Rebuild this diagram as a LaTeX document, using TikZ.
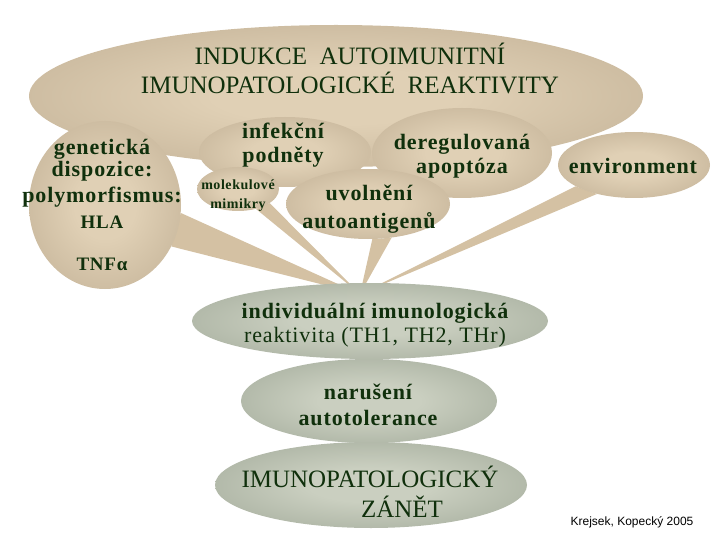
\documentclass[tikz,border=0pt]{standalone}
\usepackage{fontspec}
\setmainfont{Liberation Serif}
\newfontfamily\spaced[LetterSpace=4]{Liberation Serif}
\newfontfamily\creditfont{Liberation Sans}
\usepackage{tikz}
\usetikzlibrary{shapes.geometric}
\definecolor{tanlight}{RGB}{224,208,181}
\definecolor{tandark}{RGB}{176,158,131}
\definecolor{tantail}{RGB}{212,193,163}
\definecolor{greylight}{RGB}{202,207,192}
\definecolor{greydark}{RGB}{140,150,133}
\definecolor{leaf}{RGB}{16,48,12}
\pgfdeclareradialshading{tanball}{\pgfpoint{0bp}{0bp}}{color(0bp)=(tanlight); color(10bp)=(tanlight); color(50bp)=(tandark)}
\pgfdeclareradialshading{greyball}{\pgfpoint{0bp}{0bp}}{color(0bp)=(greylight); color(10bp)=(greylight); color(50bp)=(greydark)}
\pgfdeclarelayer{background}
\pgfsetlayers{background,main}

\begin{document}
\begin{tikzpicture}[x=1pt,y=-1pt,
  balloon/.style={ellipse,inner sep=0pt,shade,shading=tanball},
  greyblob/.style={ellipse,inner sep=0pt,shade,shading=greyball},
  tail/.style={fill=tantail},
  btext/.style={text=leaf,inner sep=0pt,align=center,font=\spaced\bfseries\fontsize{22}{24}\selectfont},
  rtext/.style={text=leaf,inner sep=0pt,align=center,font=\fontsize{25}{29}\selectfont}]
\useasboundingbox (0,0) rectangle (720,540);
\node[balloon,minimum width=614pt,minimum height=142pt] (induction) at (336,96) {};
\node[rtext] (inductiontext) at (350,68) {INDUKCE\ \ AUTOIMUNITNÍ\\IMUNOPATOLOGICKÉ\ \ REAKTIVITY};
\node[balloon,minimum width=152pt,minimum height=168pt] (genetic) at (105,205) {};
\node[btext] (genetictext) at (102,205) {genetická\\[-2pt]dispozice:\\[2pt]polymorfismus:\\[2pt]{\fontsize{19}{20}\selectfont HLA}\\[18pt]{\fontsize{19}{20}\selectfont TNFα}};
\node[balloon,minimum width=172pt,minimum height=70pt] (infect) at (285,152) {};
\node[btext] (infecttext) at (283,145) {infekční\\podněty};
\node[balloon,minimum width=180pt,minimum height=90pt] (dereg) at (462,153) {};
\node[btext] (deregtext) at (462,156) {deregulovaná\\apoptóza};
\node[balloon,minimum width=82pt,minimum height=44pt] (mimic) at (238,189) {};
\node[btext,font=\spaced\bfseries\fontsize{14}{19}\selectfont] (mimictext) at (238,196) {molekulové\\mimikry};
\node[balloon,minimum width=164pt,minimum height=70pt] (release) at (368,204) {};
\node[btext] (releasetext) at (369,209) {uvolnění\\[4pt]autoantigenů};
\node[balloon,minimum width=152pt,minimum height=66pt] (environ) at (634,165) {};
\node[btext] (environtext) at (633,166) {environment};
\coordinate (focus) at (360,294);
\begin{pgfonlayer}{background}
\fill[tail] (genetic.-6) -- (focus) -- (genetic.-32) -- cycle;
\fill[tail] (mimic.-24) -- (focus) -- (mimic.-48) -- cycle;
\fill[tail] (release.-55) -- (focus) -- (release.-83) -- cycle;
\fill[tail] (environ.200) -- (focus) -- (environ.218) -- cycle;
\end{pgfonlayer}
\node[greyblob,minimum width=356pt,minimum height=76pt] (reactivity) at (370,321) {};
\node[btext] (reactivitytext) at (375,325) {individuální imunologická\\{\fontspec[LetterSpace=4]{Liberation Serif}\mdseries\fontsize{22}{26}\selectfont reaktivita (TH1, TH2, THr)}};
\node[greyblob,minimum width=256pt,minimum height=84pt] (tolerance) at (369,401) {};
\node[btext,font=\spaced\bfseries\fontsize{22}{26}\selectfont] (tolerancetext) at (368,405) {narušení\\autotolerance};
\node[greyblob,minimum width=312pt,minimum height=86pt] (inflam) at (371,485) {};
\node[rtext,font=\fontsize{25}{30}\selectfont] (inflamtext) at (370,492) {IMUNOPATOLOGICKÝ\\\hspace*{64pt}ZÁNĚT};
\node[inner sep=0pt,font=\creditfont\fontsize{12}{14}\selectfont] (credit) at (632,522) {Krejsek, Kopecký 2005};
\end{tikzpicture}
\end{document}
